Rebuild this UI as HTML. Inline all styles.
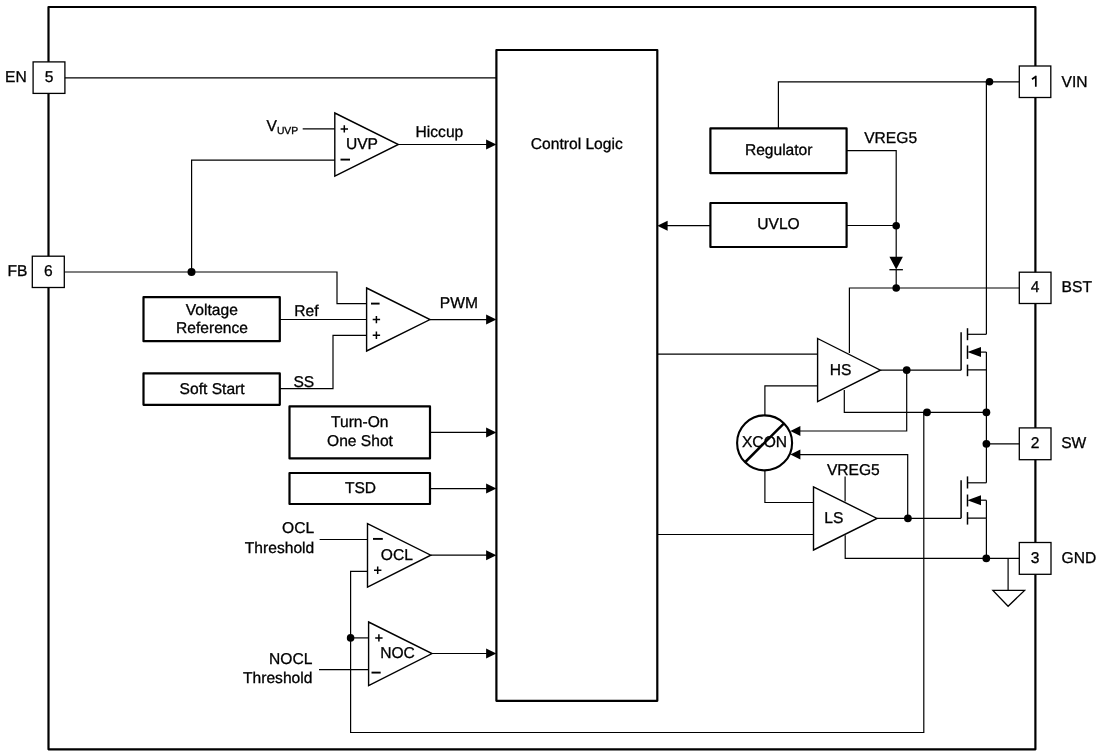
<!DOCTYPE html>
<html><head><meta charset="utf-8"><style>
html,body{margin:0;padding:0;background:#fff;overflow:hidden;}
svg{display:block;will-change:transform;}
text{text-rendering:geometricPrecision;font-family:"Liberation Sans",sans-serif;fill:#000;stroke:#000;stroke-width:0.3px;}
</style></head><body>
<svg width="1100" height="756" viewBox="0 0 1100 756">
<rect width="1100" height="756" fill="#fff"/>
<rect x="48.5" y="7.0" width="986.9" height="742.3" fill="none" stroke="#000" stroke-width="2.2" stroke-linejoin="round"/>
<rect x="33.1" y="61.9" width="31.8" height="31.5" fill="#fff" stroke="#000" stroke-width="1.3"/>
<text x="49.0" y="81.75" font-size="15.6" text-anchor="middle">5</text>
<rect x="32.3" y="256.2" width="32.0" height="31.3" fill="#fff" stroke="#000" stroke-width="1.3"/>
<text x="48.3" y="275.95" font-size="15.6" text-anchor="middle">6</text>
<rect x="1019.3" y="66.0" width="31.5" height="31.5" fill="#fff" stroke="#000" stroke-width="1.3"/>
<path d="M1035.8,86.7 V75.8 M1036.2,76.2 L1032,79.3" fill="none" stroke="#000" stroke-width="1.7" stroke-linecap="butt"/>
<rect x="1019.3" y="272.2" width="31.7" height="31.3" fill="#fff" stroke="#000" stroke-width="1.3"/>
<text x="1035.15" y="291.95" font-size="15.6" text-anchor="middle">4</text>
<rect x="1019.3" y="427.9" width="31.7" height="31.8" fill="#fff" stroke="#000" stroke-width="1.3"/>
<text x="1035.15" y="447.9" font-size="15.6" text-anchor="middle">2</text>
<rect x="1019.3" y="542.5" width="31.7" height="31.8" fill="#fff" stroke="#000" stroke-width="1.3"/>
<text x="1035.15" y="562.5" font-size="15.6" text-anchor="middle">3</text>
<text x="5.0" y="82.1" font-size="15.6" text-anchor="start">EN</text>
<text x="7.4" y="276.3" font-size="15.6" text-anchor="start">FB</text>
<text x="1061.5" y="86.9" font-size="15.6" text-anchor="start">VIN</text>
<text x="1061.6" y="292.4" font-size="15.6" text-anchor="start">BST</text>
<text x="1061.2" y="448.3" font-size="15.6" text-anchor="start">SW</text>
<text x="1061.6" y="562.9" font-size="15.6" text-anchor="start">GND</text>
<rect x="496.4" y="50" width="160.9" height="650.8" fill="none" stroke="#000" stroke-width="2.2" stroke-linejoin="round"/>
<text x="576.8" y="148.8" font-size="15.6" text-anchor="middle">Control Logic</text>
<path d="M64.9,77.8 L496.4,77.8" fill="none" stroke="#000" stroke-width="1.2" stroke-linejoin="miter" stroke-linecap="butt"/>
<path d="M334.8,113 L398.4,144.5 L334.8,176.1 Z" fill="none" stroke="#000" stroke-width="1.4" stroke-linejoin="miter"/>
<path d="M302.7,128.9 L334.8,128.9" fill="none" stroke="#000" stroke-width="1.2" stroke-linejoin="miter" stroke-linecap="butt"/>
<path d="M334.8,160.2 L191.6,160.2 L191.6,272" fill="none" stroke="#000" stroke-width="1.2" stroke-linejoin="miter" stroke-linecap="butt"/>
<path d="M340.6,128.9 H348.0 M344.3,125.2 V132.6" stroke="#000" stroke-width="1.5"/>
<path d="M340.5,159.6 H350" stroke="#000" stroke-width="1.9"/>
<text x="362" y="149.2" font-size="15.6" text-anchor="middle">UVP</text>
<text x="266.6" y="131.0" font-size="15.6" text-anchor="start">V</text>
<text x="276.9" y="133.7" font-size="10.35" text-anchor="start">UVP</text>
<path d="M398.4,144.5 L487,144.5" fill="none" stroke="#000" stroke-width="1.2" stroke-linejoin="miter" stroke-linecap="butt"/>
<path d="M496.4,144.5 L486.1,139.5 L486.1,149.5 Z" fill="#000"/>
<text x="415.6" y="136.5" font-size="15.6" text-anchor="start">Hiccup</text>
<path d="M64.3,272 L337,272 L337,303.6 L366.6,303.6" fill="none" stroke="#000" stroke-width="1.2" stroke-linejoin="miter" stroke-linecap="butt"/>
<circle cx="191.5" cy="271.9" r="4.0" fill="#000"/>
<path d="M366.6,288 L430,319.6 L366.6,351 Z" fill="none" stroke="#000" stroke-width="1.4" stroke-linejoin="miter"/>
<path d="M371,303.6 H379.6" stroke="#000" stroke-width="1.9"/>
<path d="M372.7,319.6 H380.09999999999997 M376.4,315.90000000000003 V323.3" stroke="#000" stroke-width="1.5"/>
<path d="M372.7,335.3 H380.09999999999997 M376.4,331.6 V339.0" stroke="#000" stroke-width="1.5"/>
<path d="M279.8,319.5 L366.6,319.5" fill="none" stroke="#000" stroke-width="1.2" stroke-linejoin="miter" stroke-linecap="butt"/>
<path d="M279.8,388.6 L333,388.6 L333,335.4 L366.6,335.4" fill="none" stroke="#000" stroke-width="1.2" stroke-linejoin="miter" stroke-linecap="butt"/>
<rect x="143.5" y="297.2" width="136.3" height="44.0" fill="none" stroke="#000" stroke-width="2.2" stroke-linejoin="round"/>
<text x="211.8" y="314.5" font-size="15.6" text-anchor="middle">Voltage</text>
<text x="212" y="332.6" font-size="15.6" text-anchor="middle">Reference</text>
<rect x="143.5" y="373.4" width="136.3" height="31.4" fill="none" stroke="#000" stroke-width="2.2" stroke-linejoin="round"/>
<text x="212.1" y="393.8" font-size="15.6" text-anchor="middle">Soft Start</text>
<text x="294.3" y="315.6" font-size="15.6" text-anchor="start">Ref</text>
<text x="293.4" y="386.5" font-size="15.6" text-anchor="start">SS</text>
<path d="M430,319.6 L487,319.6" fill="none" stroke="#000" stroke-width="1.2" stroke-linejoin="miter" stroke-linecap="butt"/>
<path d="M496.4,319.6 L486.1,314.6 L486.1,324.6 Z" fill="#000"/>
<text x="439.8" y="308.1" font-size="15.6" text-anchor="start">PWM</text>
<rect x="289.5" y="406.4" width="140.5" height="52.0" fill="none" stroke="#000" stroke-width="2.2" stroke-linejoin="round"/>
<text x="359.8" y="427.1" font-size="15.6" text-anchor="middle">Turn-On</text>
<text x="360" y="446.0" font-size="15.6" text-anchor="middle">One Shot</text>
<path d="M430,432.4 L487,432.4" fill="none" stroke="#000" stroke-width="1.2" stroke-linejoin="miter" stroke-linecap="butt"/>
<path d="M496.4,432.4 L486.1,427.4 L486.1,437.4 Z" fill="#000"/>
<rect x="289.5" y="473" width="140.5" height="31" fill="none" stroke="#000" stroke-width="2.2" stroke-linejoin="round"/>
<text x="360.5" y="492.7" font-size="15.6" text-anchor="middle">TSD</text>
<path d="M430,488.6 L487,488.6" fill="none" stroke="#000" stroke-width="1.2" stroke-linejoin="miter" stroke-linecap="butt"/>
<path d="M496.4,488.6 L486.1,483.6 L486.1,493.6 Z" fill="#000"/>
<path d="M367.5,523.7 L430.8,555.2 L367.5,587.2 Z" fill="none" stroke="#000" stroke-width="1.4" stroke-linejoin="miter"/>
<path d="M319.6,539.5 L367.5,539.5" fill="none" stroke="#000" stroke-width="1.2" stroke-linejoin="miter" stroke-linecap="butt"/>
<path d="M373,538.9 H382.8" stroke="#000" stroke-width="1.9"/>
<path d="M374.0,570.2 H381.4 M377.7,566.5 V573.9000000000001" stroke="#000" stroke-width="1.5"/>
<text x="396.9" y="560.0" font-size="15.6" text-anchor="middle">OCL</text>
<text x="314.2" y="533.3" font-size="15.6" text-anchor="end">OCL</text>
<text x="314.2" y="552.5" font-size="15.6" text-anchor="end">Threshold</text>
<path d="M430.8,555.2 L487,555.2" fill="none" stroke="#000" stroke-width="1.2" stroke-linejoin="miter" stroke-linecap="butt"/>
<path d="M496.4,555.2 L486.1,550.2 L486.1,560.2 Z" fill="#000"/>
<path d="M368.6,622 L432,653.5 L368.6,685.5 Z" fill="none" stroke="#000" stroke-width="1.4" stroke-linejoin="miter"/>
<path d="M350.6,637.9 L368.6,637.9" fill="none" stroke="#000" stroke-width="1.2" stroke-linejoin="miter" stroke-linecap="butt"/>
<path d="M319,669.7 L368.6,669.7" fill="none" stroke="#000" stroke-width="1.2" stroke-linejoin="miter" stroke-linecap="butt"/>
<path d="M375.2,637.9 H382.59999999999997 M378.9,634.1999999999999 V641.6" stroke="#000" stroke-width="1.5"/>
<path d="M371.5,672.6 H380.7" stroke="#000" stroke-width="1.9"/>
<text x="397.5" y="658.2" font-size="15.6" text-anchor="middle">NOC</text>
<text x="312.4" y="664.0" font-size="15.6" text-anchor="end">NOCL</text>
<text x="312.4" y="682.7" font-size="15.6" text-anchor="end">Threshold</text>
<path d="M432,653.5 L487,653.5" fill="none" stroke="#000" stroke-width="1.2" stroke-linejoin="miter" stroke-linecap="butt"/>
<path d="M496.4,653.5 L486.1,648.5 L486.1,658.5 Z" fill="#000"/>
<circle cx="350.6" cy="637.9" r="3.8" fill="#000"/>
<path d="M367.5,571.4 L350.6,571.4 L350.6,732.5 L923.8,732.5 L923.8,412.3" fill="none" stroke="#000" stroke-width="1.2" stroke-linejoin="miter" stroke-linecap="butt"/>
<rect x="710.4" y="128.4" width="136.2" height="44.8" fill="none" stroke="#000" stroke-width="2.2" stroke-linejoin="round"/>
<text x="778.7" y="154.7" font-size="15.6" text-anchor="middle">Regulator</text>
<path d="M778.4,128.4 L778.4,81.8 L1019.3,81.8" fill="none" stroke="#000" stroke-width="1.2" stroke-linejoin="miter" stroke-linecap="butt"/>
<circle cx="989.5" cy="81.8" r="3.8" fill="#000"/>
<path d="M846.6,150.6 L896.2,150.6 L896.2,257" fill="none" stroke="#000" stroke-width="1.2" stroke-linejoin="miter" stroke-linecap="butt"/>
<text x="864.2" y="142.7" font-size="15.6" text-anchor="start">VREG5</text>
<rect x="710.4" y="203" width="136.2" height="44" fill="none" stroke="#000" stroke-width="2.2" stroke-linejoin="round"/>
<text x="778.5" y="229.1" font-size="15.6" text-anchor="middle">UVLO</text>
<path d="M710.4,225.7 L667,225.7" fill="none" stroke="#000" stroke-width="1.2" stroke-linejoin="miter" stroke-linecap="butt"/>
<path d="M657.3,225.7 L667.6,220.7 L667.6,230.7 Z" fill="#000"/>
<path d="M846.6,225.5 L896.2,225.5" fill="none" stroke="#000" stroke-width="1.2" stroke-linejoin="miter" stroke-linecap="butt"/>
<circle cx="896.2" cy="225.7" r="3.8" fill="#000"/>
<path d="M889.4,256.8 L902.9,256.8 L896.2,269.4 Z" fill="#000"/>
<path d="M889.4,269.7 L902.9,269.7" fill="none" stroke="#000" stroke-width="1.3" stroke-linejoin="miter" stroke-linecap="butt"/>
<path d="M896.2,269.7 L896.2,288" fill="none" stroke="#000" stroke-width="1.2" stroke-linejoin="miter" stroke-linecap="butt"/>
<path d="M849.4,353 L849.4,288 L1019.3,288" fill="none" stroke="#000" stroke-width="1.2" stroke-linejoin="miter" stroke-linecap="butt"/>
<circle cx="896.2" cy="288" r="3.8" fill="#000"/>
<path d="M817.6,338.5 L880.4,370.2 L817.6,401.7 Z" fill="none" stroke="#000" stroke-width="1.4" stroke-linejoin="miter"/>
<text x="840.7" y="374.5" font-size="15.6" text-anchor="middle">HS</text>
<path d="M657.3,354.2 L817.6,354.2" fill="none" stroke="#000" stroke-width="1.2" stroke-linejoin="miter" stroke-linecap="butt"/>
<path d="M880.4,370.1 L961.1,370.1" fill="none" stroke="#000" stroke-width="1.2" stroke-linejoin="miter" stroke-linecap="butt"/>
<circle cx="906.7" cy="370.1" r="3.9" fill="#000"/>
<path d="M906.7,370.1 L906.7,431 L800,431" fill="none" stroke="#000" stroke-width="1.2" stroke-linejoin="miter" stroke-linecap="butt"/>
<path d="M790.4,431 L800.4,426 L800.4,436 Z" fill="#000"/>
<path d="M844.3,390 L844.3,412.3 L986.4,412.3" fill="none" stroke="#000" stroke-width="1.2" stroke-linejoin="miter" stroke-linecap="butt"/>
<circle cx="927" cy="412.3" r="3.9" fill="#000"/>
<circle cx="986.4" cy="412.3" r="3.9" fill="#000"/>
<circle cx="764.6" cy="442.9" r="27.5" fill="none" stroke="#000" stroke-width="2.1"/>
<text x="764.5" y="447.4" font-size="15.6" text-anchor="middle">XCON</text>
<path d="M745.3,462 L784,423.4" fill="none" stroke="#000" stroke-width="2.5" stroke-linejoin="miter" stroke-linecap="butt"/>
<path d="M764.9,415.4 L764.9,385.9 L817.6,385.9" fill="none" stroke="#000" stroke-width="1.2" stroke-linejoin="miter" stroke-linecap="butt"/>
<path d="M764.9,470.4 L764.9,502.5 L813.5,502.5" fill="none" stroke="#000" stroke-width="1.2" stroke-linejoin="miter" stroke-linecap="butt"/>
<path d="M907.7,518.3 L907.7,454.6 L800,454.6" fill="none" stroke="#000" stroke-width="1.2" stroke-linejoin="miter" stroke-linecap="butt"/>
<path d="M790.4,454.6 L800.4,449.6 L800.4,459.6 Z" fill="#000"/>
<path d="M813.5,486.9 L877,518.4 L813.5,550 Z" fill="none" stroke="#000" stroke-width="1.4" stroke-linejoin="miter"/>
<text x="833.8" y="522.8" font-size="15.6" text-anchor="middle">LS</text>
<path d="M657.3,534.5 L813.5,534.5" fill="none" stroke="#000" stroke-width="1.2" stroke-linejoin="miter" stroke-linecap="butt"/>
<path d="M877,518.3 L961.1,518.3" fill="none" stroke="#000" stroke-width="1.2" stroke-linejoin="miter" stroke-linecap="butt"/>
<circle cx="907.9" cy="518.3" r="3.9" fill="#000"/>
<path d="M845.1,476.4 L845.1,501.6" fill="none" stroke="#000" stroke-width="1.2" stroke-linejoin="miter" stroke-linecap="butt"/>
<text x="826.9" y="475.0" font-size="15.6" text-anchor="start">VREG5</text>
<path d="M845.2,535.2 L845.2,558.3 L1019.3,558.3" fill="none" stroke="#000" stroke-width="1.2" stroke-linejoin="miter" stroke-linecap="butt"/>
<circle cx="986.3" cy="558.3" r="3.9" fill="#000"/>
<path d="M1008.1,558.3 L1008.1,590.4" fill="none" stroke="#000" stroke-width="1.2" stroke-linejoin="miter" stroke-linecap="butt"/>
<path d="M992.9,590.4 L1024.6,590.4 L1008.1,606.3 Z" fill="none" stroke="#000" stroke-width="1.3"/>
<path d="M961.1,332.2 L961.1,370.3" fill="none" stroke="#000" stroke-width="1.5" stroke-linejoin="miter" stroke-linecap="butt"/>
<path d="M967.5,328.2 L967.5,340.2" fill="none" stroke="#000" stroke-width="1.5" stroke-linejoin="miter" stroke-linecap="butt"/>
<path d="M967.5,345.5 L967.5,358.9" fill="none" stroke="#000" stroke-width="1.5" stroke-linejoin="miter" stroke-linecap="butt"/>
<path d="M967.5,364.6 L967.5,376.2" fill="none" stroke="#000" stroke-width="1.5" stroke-linejoin="miter" stroke-linecap="butt"/>
<path d="M967.5,334.3 L986.4,334.3" fill="none" stroke="#000" stroke-width="1.2" stroke-linejoin="miter" stroke-linecap="butt"/>
<path d="M986.4,352.1 L986.4,369.8 L967.5,369.8" fill="none" stroke="#000" stroke-width="1.2" stroke-linejoin="miter" stroke-linecap="butt"/>
<path d="M980,352.1 L986.4,352.1" fill="none" stroke="#000" stroke-width="1.2" stroke-linejoin="miter" stroke-linecap="butt"/>
<path d="M967.4,352.1 L981,347.1 L981,357.1 Z" fill="#000"/>
<path d="M986.4,334.3 L986.4,81.8" fill="none" stroke="#000" stroke-width="1.2" stroke-linejoin="miter" stroke-linecap="butt"/>
<path d="M986.4,369.9 L986.4,482.8" fill="none" stroke="#000" stroke-width="1.2" stroke-linejoin="miter" stroke-linecap="butt"/>
<path d="M986.4,443.8 L1019.3,443.8" fill="none" stroke="#000" stroke-width="1.2" stroke-linejoin="miter" stroke-linecap="butt"/>
<circle cx="986.4" cy="443.8" r="3.9" fill="#000"/>
<path d="M961.1,480.3 L961.1,518.2" fill="none" stroke="#000" stroke-width="1.5" stroke-linejoin="miter" stroke-linecap="butt"/>
<path d="M967.5,476.4 L967.5,488.5" fill="none" stroke="#000" stroke-width="1.5" stroke-linejoin="miter" stroke-linecap="butt"/>
<path d="M967.5,494.5 L967.5,506.5" fill="none" stroke="#000" stroke-width="1.5" stroke-linejoin="miter" stroke-linecap="butt"/>
<path d="M967.5,512.1 L967.5,524.6" fill="none" stroke="#000" stroke-width="1.5" stroke-linejoin="miter" stroke-linecap="butt"/>
<path d="M967.5,482.8 L986.4,482.8" fill="none" stroke="#000" stroke-width="1.2" stroke-linejoin="miter" stroke-linecap="butt"/>
<path d="M986.4,500.2 L986.4,518.2 L967.5,518.2" fill="none" stroke="#000" stroke-width="1.2" stroke-linejoin="miter" stroke-linecap="butt"/>
<path d="M980,500.2 L986.4,500.2" fill="none" stroke="#000" stroke-width="1.2" stroke-linejoin="miter" stroke-linecap="butt"/>
<path d="M967.4,500.2 L981,495.2 L981,505.2 Z" fill="#000"/>
<path d="M986.4,518.2 L986.4,558.3" fill="none" stroke="#000" stroke-width="1.2" stroke-linejoin="miter" stroke-linecap="butt"/>
</svg></body></html>
